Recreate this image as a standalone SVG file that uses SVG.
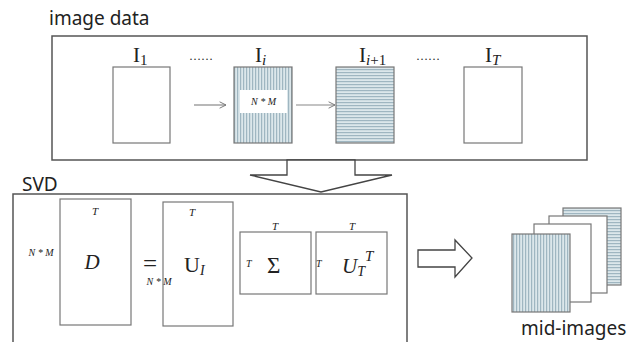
<svg xmlns="http://www.w3.org/2000/svg" width="630" height="342" viewBox="0 0 630 342">
<defs>
<pattern id="vstripe" width="3" height="10" patternUnits="userSpaceOnUse">
<rect width="3" height="10" fill="#dce7eb"/>
<rect x="0" width="1.2" height="10" fill="#9fb6c1"/>
</pattern>
<pattern id="hstripe" width="10" height="3" patternUnits="userSpaceOnUse">
<rect width="10" height="3" fill="#dce7eb"/>
<rect y="0" width="10" height="1.2" fill="#9fb6c1"/>
</pattern>
<marker id="open" viewBox="0 0 10 10" refX="9" refY="5" markerWidth="8" markerHeight="8" orient="auto" markerUnits="userSpaceOnUse">
<path d="M1,1 L9,5 L1,9" fill="none" stroke="#777" stroke-width="1.2"/>
</marker>
</defs>
<style>
.box{fill:#fff;stroke:#555;stroke-width:1.5}
.pg{fill:#fff;stroke:#777;stroke-width:1.2}
.lbl{font-family:"Noto Sans","Open Sans",sans-serif;font-size:19px;fill:#222}
.math{font-family:"Liberation Serif","DejaVu Serif",serif;fill:#222}
.it{font-style:italic}
.conn{fill:none;stroke:#888;stroke-width:1.2}
.big{fill:#fff;stroke:#444;stroke-width:1.3}
</style>
<rect width="630" height="342" fill="#fff"/>

<g id="image-data">
<text class="lbl" x="49" y="25">image data</text>
<rect class="box" x="52" y="36" width="535" height="124"/>
</g>

<g id="I1">
<text class="math" x="133" y="62" font-size="21">I<tspan font-size="15" dy="3">1</tspan></text>
<rect class="pg" x="113" y="67" width="57" height="76"/>
</g>
<text class="math" x="189" y="60" font-size="12">……</text>

<g id="Ii">
<text class="math" x="255" y="62" font-size="21">I<tspan font-size="15" dy="3" class="it">i</tspan></text>
<rect x="234" y="67" width="58" height="76" fill="url(#vstripe)" stroke="#777" stroke-width="1.2"/>
<rect x="240" y="90" width="47" height="23" fill="#fff"/>
<text class="math it" x="263.5" y="105" font-size="10" text-anchor="middle">N * M</text>
</g>

<g id="Ii1">
<text class="math" x="359" y="62" font-size="21">I<tspan font-size="15" dy="3" class="it">i</tspan><tspan font-size="15">+1</tspan></text>
<rect x="336" y="67" width="58" height="76" fill="url(#hstripe)" stroke="#777" stroke-width="1.2"/>
</g>
<text class="math" x="416" y="60" font-size="12">……</text>

<g id="IT">
<text class="math" x="485" y="62" font-size="21">I<tspan font-size="15" dy="3" class="it">T</tspan></text>
<rect class="pg" x="464" y="67" width="58" height="76"/>
</g>

<g id="connectors">
<line class="conn" x1="194" y1="105" x2="226" y2="105" marker-end="url(#open)"/>
<line class="conn" x1="296" y1="105" x2="335" y2="105" marker-end="url(#open)"/>
<polygon class="big" points="287,160 287,175 250,175 321,192 392,175 355,175 355,160"/>
<polygon class="big" points="418,250 455,250 455,240 472,258 455,277 455,267 418,267"/>
</g>

<g id="svd">
<text class="lbl" x="22" y="191" font-size="20">SVD</text>
<rect class="box" x="13" y="194" width="394" height="160"/>
</g>

<g id="D">
<rect class="pg" x="60" y="199" width="71" height="126"/>
<text class="math it" x="95" y="215" font-size="11" text-anchor="middle">T</text>
<text class="math it" x="41" y="256" font-size="10" text-anchor="middle">N * M</text>
<text class="math it" x="92" y="269" font-size="21" text-anchor="middle">D</text>
</g>

<text class="math" x="150" y="272" font-size="25" text-anchor="middle">=</text>

<g id="UI">
<rect class="pg" x="163" y="202" width="70" height="124"/>
<text class="math it" x="192" y="216" font-size="11" text-anchor="middle">T</text>
<text class="math it" x="159" y="285" font-size="10" text-anchor="middle">N * M</text>
<text class="math" x="184" y="272" font-size="22">U<tspan class="it" font-size="14" dy="3">I</tspan></text>
</g>

<g id="Sigma">
<rect class="pg" x="240" y="232" width="71" height="62"/>
<text class="math it" x="275" y="230" font-size="11" text-anchor="middle">T</text>
<text class="math it" x="246" y="267" font-size="10">T</text>
<text class="math" x="267" y="273" font-size="23">Σ</text>
</g>

<g id="UTT">
<rect class="pg" x="316" y="232" width="71" height="62"/>
<text class="math it" x="352" y="230" font-size="11" text-anchor="middle">T</text>
<text class="math it" x="316" y="267" font-size="10">T</text>
<text class="math it" x="342" y="273" font-size="21">U<tspan font-size="14" dy="3">T</tspan><tspan font-size="15" dy="-15">T</tspan></text>
</g>

<g id="mid-images">
<rect x="563" y="208" width="58" height="77" fill="url(#hstripe)" stroke="#777" stroke-width="1.2"/>
<rect class="pg" x="549" y="216" width="58" height="77"/>
<rect class="pg" x="534" y="224" width="57" height="78"/>
<rect x="512" y="234" width="58" height="78" fill="url(#vstripe)" stroke="#777" stroke-width="1.2"/>
<text class="lbl" x="521" y="335">mid-images</text>
</g>
</svg>
